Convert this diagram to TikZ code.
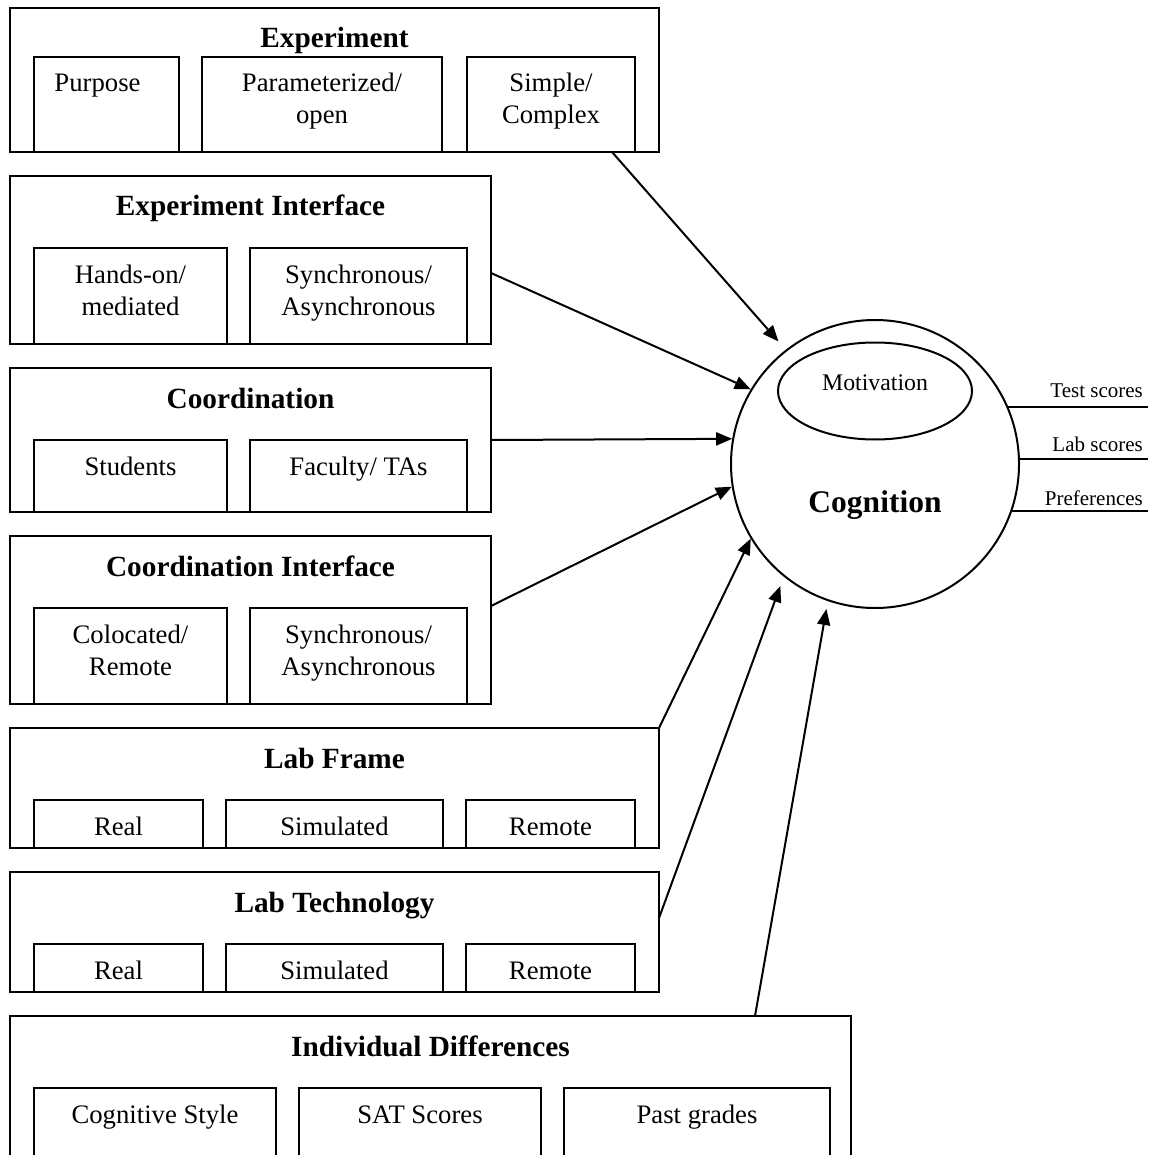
\documentclass[tikz,border=0pt]{standalone}
\usepackage{fontspec}
\setmainfont{Liberation Serif}
\usetikzlibrary{arrows.meta,shapes.geometric}

\begin{document}
\begin{tikzpicture}[
    x=1pt, y=-1pt,
    box/.style={draw, line width=2pt, inner sep=0pt, outer sep=0pt, anchor=north west},
    head/.style={anchor=base, yshift=-40pt, inner sep=0pt, font=\fontsize{29.3pt}{34pt}\selectfont\bfseries},
    item/.style={anchor=base, yshift=-35pt, inner sep=0pt, align=center, font=\fontsize{26.7pt}{32pt}\selectfont},
    pair/.style={anchor=base, yshift=-67pt, inner sep=0pt, align=center, font=\fontsize{26.7pt}{32pt}\selectfont},
    result/.style={anchor=base east, inner sep=0pt, font=\fontsize{21pt}{24pt}\selectfont},
    arrow/.style={-{Triangle[length=16pt, width=13pt]}, line width=2pt},
    line/.style={line width=2pt}
]
\useasboundingbox (0,0) rectangle (1150,1155);
\clip (0,0) rectangle (1150,1155);

% Experiment
\node[box, minimum width=649pt, minimum height=144pt, label={[head]north:Experiment}] (exp) at (10,8) {};
\node[box, minimum width=145pt, minimum height=95pt, label={[item, xshift=-9pt]north:Purpose}] (purpose) at (34,57) {};
\node[box, minimum width=240pt, minimum height=95pt, label={[pair]north:Parameterized/\\open}] (param) at (202,57) {};
\node[box, minimum width=168pt, minimum height=95pt, label={[pair]north:Simple/\\Complex}] (simple) at (467,57) {};

% Experiment Interface
\node[box, minimum width=481pt, minimum height=168pt, label={[head]north:Experiment Interface}] (expif) at (10,176) {};
\node[box, minimum width=193pt, minimum height=96pt, label={[pair]north:Hands-on/\\mediated}] (hands) at (34,248) {};
\node[box, minimum width=217pt, minimum height=96pt, label={[pair]north:Synchronous/\\Asynchronous}] (syncA) at (250,248) {};

% Coordination
\node[box, minimum width=481pt, minimum height=144pt, label={[head]north:Coordination}] (coord) at (10,368) {};
\node[box, minimum width=193pt, minimum height=72pt, label={[item]north:Students}] (students) at (34,440) {};
\node[box, minimum width=217pt, minimum height=72pt, label={[item]north:Faculty/ TAs}] (faculty) at (250,440) {};

% Coordination Interface
\node[box, minimum width=481pt, minimum height=168pt, label={[head]north:Coordination Interface}] (coordif) at (10,536) {};
\node[box, minimum width=193pt, minimum height=96pt, label={[pair]north:Colocated/\\Remote}] (coloc) at (34,608) {};
\node[box, minimum width=217pt, minimum height=96pt, label={[pair]north:Synchronous/\\Asynchronous}] (syncB) at (250,608) {};

% Lab Frame
\node[box, minimum width=649pt, minimum height=120pt, label={[head]north:Lab Frame}] (frame) at (10,728) {};
\node[box, minimum width=169pt, minimum height=48pt, label={[item]north:Real}] (realA) at (34,800) {};
\node[box, minimum width=217pt, minimum height=48pt, label={[item]north:Simulated}] (simA) at (226,800) {};
\node[box, minimum width=169pt, minimum height=48pt, label={[item]north:Remote}] (remA) at (466,800) {};

% Lab Technology
\node[box, minimum width=649pt, minimum height=120pt, label={[head]north:Lab Technology}] (tech) at (10,872) {};
\node[box, minimum width=169pt, minimum height=48pt, label={[item]north:Real}] (realB) at (34,944) {};
\node[box, minimum width=217pt, minimum height=48pt, label={[item]north:Simulated}] (simB) at (226,944) {};
\node[box, minimum width=169pt, minimum height=48pt, label={[item]north:Remote}] (remB) at (466,944) {};

% Individual Differences (runs off the bottom)
\node[box, minimum width=841pt, minimum height=180pt, label={[head]north:Individual Differences}] (indiv) at (10,1016) {};
\node[box, minimum width=242pt, minimum height=110pt, label={[item]north:Cognitive Style}] (style) at (34,1088) {};
\node[box, minimum width=242pt, minimum height=110pt, label={[item]north:SAT Scores}] (sat) at (299,1088) {};
\node[box, minimum width=266pt, minimum height=110pt, label={[item]north:Past grades}] (grades) at (564,1088) {};

% Cognition
\node[draw, circle, line width=2pt, inner sep=0pt, minimum size=288pt,
      label={[anchor=base, yshift=-41pt, font=\fontsize{31.5pt}{36pt}\selectfont\bfseries]center:Cognition}] (cog) at (875,464) {};
\node[draw, ellipse, line width=2pt, inner sep=0pt, minimum width=194pt, minimum height=97pt,
      label={[anchor=base, yshift=8pt, font=\fontsize{23.8pt}{28pt}\selectfont]center:Motivation}] (motiv) at (875,391) {};

% Outcomes
\node[result] (test) at (1143,397) {Test scores};
\node[result] (lab) at (1143,451) {Lab scores};
\node[result] (pref) at (1143,505) {Preferences};
\coordinate (testend) at (1148,406);
\coordinate (labend) at (1148,459);
\coordinate (prefend) at (1148,513);
\draw[line] (cog.23.75) -- (cog.23.75 -| testend);
\draw[line] (cog.2) -- (cog.2 -| labend);
\draw[line] (cog.-19.9) -- (cog.-19.9 -| prefend);

% Arrows into Cognition
\draw[arrow, shorten >=11pt] (exp.south east) ++(-47,0) -- (cog.128.7);
\draw[arrow] (expif.east) ++(0,13) -- (cog.149.1);
\draw[arrow] (coord.east) -- (cog.170.5);
\draw[arrow] (coordif.east) ++(0,-14) -- (cog.189.85);
\draw[arrow] (frame.north east) -- (cog.211.66);
\draw[arrow, shorten >=10pt] (tech.east) ++(0,-14) -- (cog.231.6);
\draw[arrow, shorten >=8pt] (indiv.north east) ++(-96,0) -- (cog.251.57);

\end{tikzpicture}
\end{document}
